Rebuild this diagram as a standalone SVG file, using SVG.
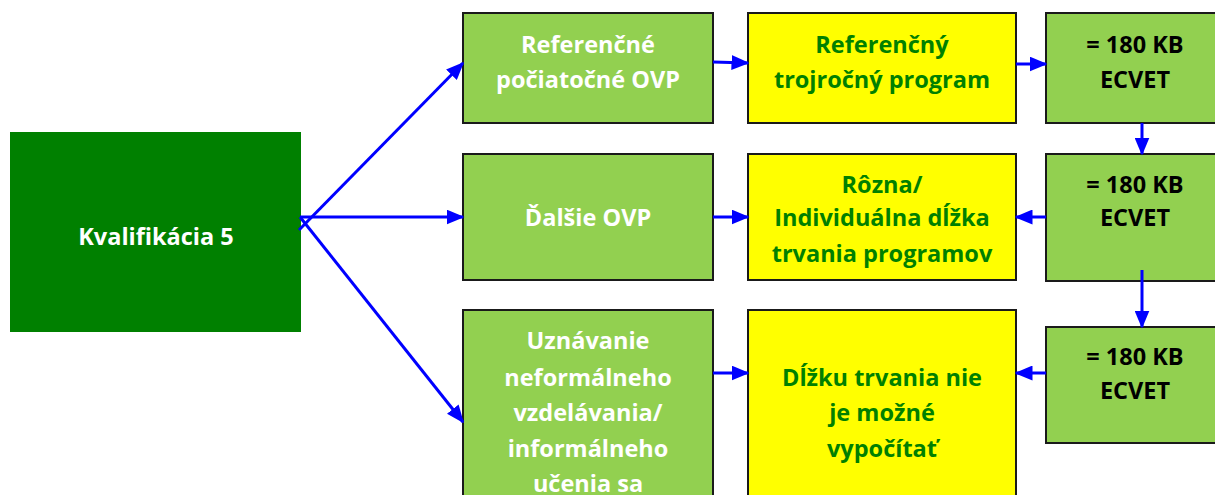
<svg xmlns="http://www.w3.org/2000/svg" width="1215" height="495" viewBox="0 0 1215 495">
<defs>
<style>
.lg{fill:#92D050;stroke:#1a1a1a;stroke-width:2}
.ye{fill:#FFFF00;stroke:#1a1a1a;stroke-width:2}
.dg{fill:#008000}
text{font-family:"Open Sans","Liberation Sans",sans-serif;font-weight:bold;font-size:23.5px;text-anchor:middle}
.w{fill:#FFFFFF}
.g{fill:#008000}
.k{fill:#000000}
.c line{stroke:#0000FF;stroke-width:3;marker-end:url(#ah)}
</style>
<marker id="ah" markerWidth="6" markerHeight="5" refX="5.5" refY="2.5" orient="auto" markerUnits="strokeWidth">
<path d="M0,0 L6,2.5 L0,5 Z" fill="#0000FF"/>
</marker>
</defs>
<rect width="1215" height="495" fill="#FFFFFF"/>
<g id="kvalifikacia">
<rect class="dg" x="10" y="132" width="291" height="200"/>
<text class="w" x="156" y="245">Kvalifikácia 5</text>
</g>
<g id="ref-ovp">
<rect class="lg" x="463" y="13" width="250" height="110"/>
<text class="w" x="588" y="53">Referenčné</text>
<text class="w" x="588" y="88">počiatočné OVP</text>
</g>
<g id="dalsie-ovp">
<rect class="lg" x="463" y="154" width="250" height="126"/>
<text class="w" x="588" y="226">Ďalšie OVP</text>
</g>
<g id="uznavanie">
<rect class="lg" x="463" y="310" width="250" height="200"/>
<text class="w" x="588" y="349">Uznávanie</text>
<text class="w" x="588" y="386">neformálneho</text>
<text class="w" x="588" y="421">vzdelávania/</text>
<text class="w" x="588" y="457">informálneho</text>
<text class="w" x="588" y="492">učenia sa</text>
</g>
<g id="ref-program">
<rect class="ye" x="748" y="13" width="268" height="110"/>
<text class="g" x="882" y="53">Referenčný</text>
<text class="g" x="882" y="88">trojročný program</text>
</g>
<g id="rozna">
<rect class="ye" x="748" y="154" width="268" height="126"/>
<text class="g" x="882" y="193">Rôzna/</text>
<text class="g" x="882" y="226">Individuálna dĺžka</text>
<text class="g" x="882" y="262">trvania programov</text>
</g>
<g id="nie">
<rect class="ye" x="748" y="310" width="268" height="200"/>
<text class="g" x="882" y="386">Dĺžku trvania nie</text>
<text class="g" x="882" y="421">je možné</text>
<text class="g" x="882" y="457">vypočítať</text>
</g>
<g id="ecvet1">
<rect class="lg" x="1046" y="13" width="180" height="110"/>
<text class="k" x="1135" y="53">= 180 KB</text>
<text class="k" x="1135" y="88">ECVET</text>
</g>
<g id="ecvet2">
<rect class="lg" x="1046" y="154" width="180" height="127"/>
<text class="k" x="1135" y="193">= 180 KB</text>
<text class="k" x="1135" y="226">ECVET</text>
</g>
<g id="ecvet3">
<rect class="lg" x="1046" y="327" width="180" height="116"/>
<text class="k" x="1135" y="365">= 180 KB</text>
<text class="k" x="1135" y="399">ECVET</text>
</g>
<g id="connectors" class="c">
<line x1="299" y1="230" x2="463" y2="63"/>
<line x1="300" y1="217" x2="463" y2="217"/>
<line x1="300" y1="217" x2="463" y2="422"/>
<line x1="713" y1="62" x2="748" y2="63"/>
<line x1="713" y1="217" x2="748" y2="217"/>
<line x1="713" y1="373" x2="748" y2="373"/>
<line x1="1016" y1="64" x2="1046" y2="64"/>
<line x1="1142" y1="123" x2="1142" y2="154"/>
<line x1="1142" y1="270" x2="1142" y2="327"/>
<line x1="1046" y1="217" x2="1016" y2="217"/>
<line x1="1046" y1="373" x2="1016" y2="373"/>
</g>
</svg>
